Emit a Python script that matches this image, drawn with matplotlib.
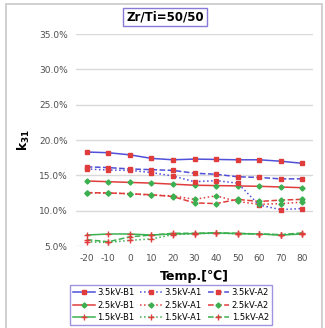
import matplotlib.pyplot as plt
from matplotlib.patches import Rectangle
from matplotlib.ticker import FuncFormatter

# ------------------ DATA ------------------

temps = [-20, -10, 0, 10, 20, 30, 40, 50, 60, 70, 80]

k31_35_b1 = [18.3, 18.2, 17.9, 17.4, 17.2, 17.3, 17.25, 17.2, 17.2, 17.0, 16.7]
k31_35_a1 = [15.9, 15.75, 15.7, 15.4, 14.9, 14.1, 14.25, 13.9, 10.8, 10.15, 10.3]
k31_35_a2 = [16.2, 16.1, 15.9, 15.8, 15.7, 15.3, 15.15, 14.8, 14.7, 14.5, 14.5]

k31_25_b1 = [14.2, 14.1, 14.0, 13.9, 13.75, 13.6, 13.55, 13.5, 13.45, 13.35, 13.25]
k31_25_a1 = [12.55, 12.5, 12.4, 12.2, 12.1, 11.6, 12.1, 11.3, 10.9, 11.0, 11.2]
k31_25_a2 = [12.55, 12.5, 12.4, 12.25, 12.0, 11.1, 11.0, 11.6, 11.3, 11.5, 11.6]

k31_15_b1 = [6.55, 6.7, 6.7, 6.55, 6.7, 6.75, 6.85, 6.75, 6.7, 6.55, 6.7]
k31_15_a1 = [5.6, 5.5, 5.8, 6.0, 6.6, 6.75, 6.8, 6.75, 6.7, 6.6, 6.75]
k31_15_a2 = [5.9, 5.6, 6.3, 6.55, 6.8, 6.8, 6.85, 6.8, 6.7, 6.6, 6.85]

# ------------------ STYLE ------------------

BLUE = "#5050d8"
RED = "#e03c3c"
GREEN = "#3cb050"

series = [
    # label, values, line color, linestyle, marker, marker color
    ("3.5kV-B1", k31_35_b1, BLUE, "-", "s", RED),
    ("2.5kV-B1", k31_25_b1, RED, "-", "D", GREEN),
    ("1.5kV-B1", k31_15_b1, GREEN, "-", "+", RED),
    ("3.5kV-A1", k31_35_a1, BLUE, ":", "s", RED),
    ("2.5kV-A1", k31_25_a1, RED, ":", "D", GREEN),
    ("1.5kV-A1", k31_15_a1, GREEN, ":", "+", RED),
    ("3.5kV-A2", k31_35_a2, BLUE, "--", "s", RED),
    ("2.5kV-A2", k31_25_a2, RED, "--", "D", GREEN),
    ("1.5kV-A2", k31_15_a2, GREEN, "--", "+", RED),
]

plt.rcParams["axes.unicode_minus"] = False

# ------------------ PLOT ------------------

fig = plt.figure(figsize=(3.25, 3.28), dpi=100)
ax = fig.add_axes([76 / 325, 1 - 246 / 328, 237 / 325, 212 / 328])

for label, vals, col, ls, mk, mcol in series:
    ms = 2.6 if mk != "+" else 4.5
    ax.plot(temps, vals, color=col, linestyle=ls, linewidth=1.1,
            marker=mk, markersize=ms, markerfacecolor=mcol,
            markeredgecolor=mcol, markeredgewidth=1.0, label=label)

ax.set_xlim(-25, 85)
ax.set_ylim(5, 35)
ax.set_xticks(temps)
ax.set_yticks([5, 10, 15, 20, 25, 30, 35])
ax.yaxis.set_major_formatter(FuncFormatter(lambda v, p: f"{v:.1f}%"))
ax.tick_params(axis="both", length=0, labelsize=6.5, labelcolor="#505050", pad=6)
ax.grid(axis="y", color="#d9d9d9", linewidth=1.0)
ax.set_axisbelow(True)
for s in ax.spines.values():
    s.set_visible(False)

ax.set_xlabel("Temp.[℃]", fontsize=9, fontweight="bold", labelpad=5)

fig.text(24 / 325, 1 - 140 / 328, r"$\mathbf{k_{31}}$", rotation=90,
         fontsize=9, ha="center", va="center")

fig.text(165 / 325, 1 - 17 / 328, "Zr/Ti=50/50", fontsize=8.5,
         fontweight="bold", ha="center", va="center",
         bbox=dict(boxstyle="square,pad=0.25", facecolor="white",
                   edgecolor="#8878d8", linewidth=1.0))

leg = fig.legend(ncol=3, fontsize=6.0, loc="center",
                 bbox_to_anchor=(171 / 325, 1 - 305 / 328),
                 frameon=True, fancybox=False, handlelength=2.6,
                 handletextpad=0.3, columnspacing=0.7, labelspacing=0.4,
                 borderpad=0.4)
leg.get_frame().set_edgecolor("#8878d8")
leg.get_frame().set_linewidth(1.0)

fig.patches.append(Rectangle((6 / 325, -0.02), 316 / 325, 1.0 - 4 / 328 + 0.02,
                             transform=fig.transFigure, fill=False,
                             edgecolor="#c8c8c8", linewidth=1.2))

fig.savefig("out.png", dpi=100)
